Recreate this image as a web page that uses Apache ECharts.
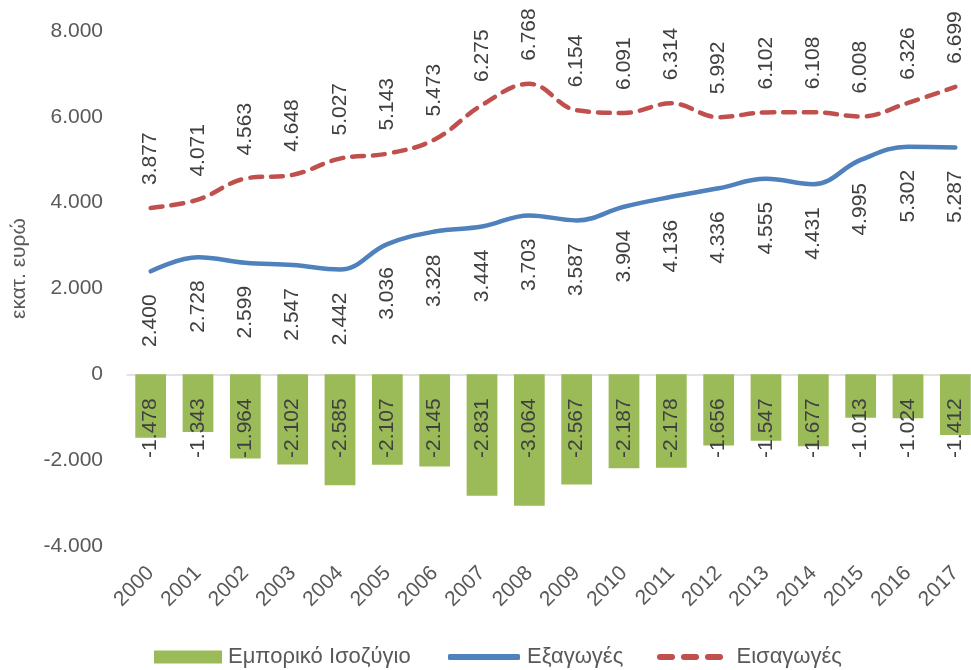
<!DOCTYPE html>
<html><head><meta charset="utf-8">
<script src="https://cdn.jsdelivr.net/npm/echarts@6/dist/echarts.min.js"></script>
<style>html,body{margin:0;padding:0;background:#fff}#c{width:971px;height:670px}</style>
</head><body><div id="c"></div>
<script>
const years = ['2000','2001','2002','2003','2004','2005','2006','2007','2008','2009','2010','2011','2012','2013','2014','2015','2016','2017'];
const balance = [-1478,-1343,-1964,-2102,-2585,-2107,-2145,-2831,-3064,-2567,-2187,-2178,-1656,-1547,-1677,-1013,-1024,-1412];
const exportsV = [2400,2728,2599,2547,2442,3036,3328,3444,3703,3587,3904,4136,4336,4555,4431,4995,5302,5287];
const importsV = [3877,4071,4563,4648,5027,5143,5473,6275,6768,6154,6091,6314,5992,6102,6108,6008,6326,6699];
const yTicks = {min:-4000, max:8000, interval:2000};
const names = ['Εμπορικό Ισοζύγιο','Εξαγωγές','Εισαγωγές'];
const yName = 'εκατ. ευρώ';

function fmt(v){
  const neg = v < 0; let s = String(Math.abs(Math.round(v)));
  s = s.replace(/\B(?=(\d{3})+(?!\d))/g,'.');
  return (neg?'-':'') + s;
}
const FONT = 'Liberation Sans';
const FS = 21;
const chart = echarts.init(document.getElementById('c'));
chart.setOption({
  animation:false,
  textStyle:{fontFamily:FONT},
  grid:{left:127,width:852,top:31,height:515,containLabel:false,outerBoundsMode:'none'},
  xAxis:[
    {type:'category',data:years,axisLine:{onZero:true,lineStyle:{color:'#d9d9d9',width:1.5}},axisTick:{show:false},axisLabel:{show:false}},
    {type:'category',data:years,position:'bottom',axisLine:{show:false,onZero:false},axisTick:{show:false},
     axisLabel:{rotate:45,fontSize:FS,color:'#595959',margin:24,fontFamily:FONT}}
  ],
  yAxis:{type:'value',min:yTicks.min,max:yTicks.max,interval:yTicks.interval,
    axisLine:{show:false},axisTick:{show:false},splitLine:{show:false},
    axisLabel:{formatter:fmt,fontSize:FS,color:'#595959',margin:24,fontFamily:FONT},
    name:yName,nameLocation:'middle',nameGap:97,nameRotate:90,
    nameTextStyle:{fontSize:FS,color:'#595959',fontFamily:FONT,padding:[0,0,0,40]}},
  legend:[
    {data:[{name:names[0],icon:'rect'}],left:149,top:641,itemWidth:68,itemHeight:13,itemGap:8,
     textStyle:{fontSize:22,color:'#595959',fontFamily:FONT,padding:[0,0,0,1]}},
    {data:[{name:names[1],icon:'roundRect'}],left:443,top:641,itemWidth:72,itemHeight:6,
     textStyle:{fontSize:22,color:'#595959',fontFamily:FONT,padding:[0,0,0,2]}},
    {data:[{name:names[2],icon:'path://M3,0h12a3,3 0 0 1 0,6h-12a3,3 0 0 1 0,-6z M27,0h12a3,3 0 0 1 0,6h-12a3,3 0 0 1 0,-6z M51,0h12a3,3 0 0 1 0,6h-12a3,3 0 0 1 0,-6z'}],
     left:652,top:641,itemWidth:67,itemHeight:6,
     textStyle:{fontSize:22,color:'#595959',fontFamily:FONT,padding:[0,0,0,8]}}
  ],
  series:[
    {name:names[0],type:'bar',data:balance,barCategoryGap:'35%',xAxisIndex:0,
     itemStyle:{color:'#9BBB59'},
     label:{show:true,position:'insideTop',rotate:90,align:'right',verticalAlign:'middle',distance:24,
       formatter:p=>fmt(p.value),fontSize:FS,color:'#404040',fontFamily:FONT}},
    {name:names[1],type:'line',data:exportsV,smooth:0.4,symbol:'circle',symbolSize:0.1,showSymbol:true,xAxisIndex:0,
     lineStyle:{color:'#4F81BD',width:4.5,cap:'round'},itemStyle:{color:'#4F81BD'},
     label:{show:true,position:'bottom',rotate:90,align:'right',verticalAlign:'middle',distance:23,
       formatter:p=>fmt(p.value),fontSize:FS,color:'#404040',fontFamily:FONT}},
    {name:names[2],type:'line',data:importsV,smooth:0.4,symbol:'circle',symbolSize:0.1,showSymbol:true,xAxisIndex:0,
     lineStyle:{color:'#C0504D',width:4.5,type:[12,9],cap:'round'},itemStyle:{color:'#C0504D'},
     label:{show:true,position:'top',rotate:90,align:'left',verticalAlign:'middle',distance:23,
       formatter:p=>fmt(p.value),fontSize:FS,color:'#404040',fontFamily:FONT}}
  ]
});
</script></body></html>
